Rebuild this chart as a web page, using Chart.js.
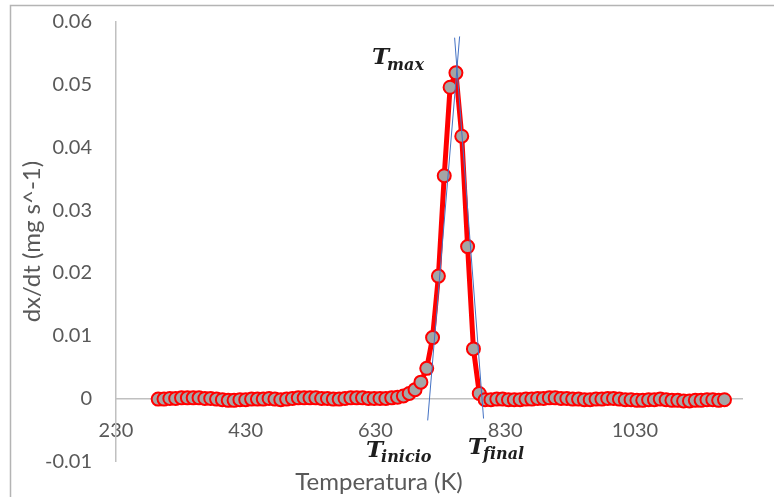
<!DOCTYPE html>
<html lang="es">
<head>
<meta charset="utf-8">
<title>dx/dt vs Temperatura</title>
<script src="https://cdn.jsdelivr.net/npm/chart.js@4.4.0/dist/chart.umd.min.js"></script>
<style>
  body { margin: 0; padding: 0; background: #ffffff; }
  #wrap { width: 774px; height: 497px; }
</style>
</head>
<body>
<div id="wrap"><canvas id="dtgChart" width="774" height="497"></canvas></div>
<script>
// temperatures (K)
const temps = [295, 304, 313, 322, 331, 340, 349, 358, 367, 376, 385, 394, 403, 412, 421, 430,
  439, 448, 457, 466, 475, 484, 493, 502, 511, 520, 529, 538, 547, 556, 565, 574, 583, 592,
  601, 610, 619, 628, 637, 646, 655, 664, 673, 682, 691, 700, 709, 718, 727, 736, 745, 754,
  763, 772, 781, 790, 799, 808, 817, 826, 835, 844, 853, 862, 871, 880, 889, 898, 907, 916,
  925, 934, 943, 952, 961, 970, 979, 988, 997, 1006, 1015, 1024, 1033, 1042, 1051, 1060,
  1069, 1078, 1087, 1096, 1105, 1114, 1123, 1132, 1141, 1150, 1159, 1168];

// dx/dt (mg s^-1)
const rates = [-0.0001, -0.0001, 0.0000, 0.0000, 0.0001, 0.0001, 0.0001, 0.0001, 0.0000, 0.0000,
  -0.0001, -0.0002, -0.0003, -0.0003, -0.0002, -0.0002, -0.0001, -0.0001, -0.0001, 0.0000,
  -0.0001, -0.0002, -0.0001, 0.0000, 0.0001, 0.0001, 0.0001, 0.0001, 0.0000, 0.0000,
  -0.0001, -0.0001, 0.0000, 0.0001, 0.0001, 0.0001, 0.0000, 0.0000, 0.0000, 0.0000,
  0.0001, 0.0002, 0.0004, 0.0008, 0.0014, 0.0026, 0.0048, 0.0097, 0.0195, 0.0355,
  0.0496, 0.0519, 0.0418, 0.0242, 0.0079, 0.0008, -0.0002, -0.0002, -0.0001, -0.0001,
  -0.0002, -0.0002, -0.0002, -0.0001, -0.0001, 0.0000, 0.0000, 0.0001, 0.0001, 0.0000,
  0.0000, -0.0001, -0.0001, -0.0002, -0.0002, -0.0001, -0.0001, 0.0000, 0.0000, -0.0001,
  -0.0002, -0.0002, -0.0003, -0.0003, -0.0002, -0.0002, -0.0001, -0.0002, -0.0003, -0.0003,
  -0.0004, -0.0004, -0.0003, -0.0003, -0.0002, -0.0002, -0.0003, -0.0002];

// tangent lines drawn by hand in the original
const tanInicioT = [710.5, 759.7];
const tanInicioY = [-0.0035, 0.0577];
const tanFinalT = [752.0, 796.6];
const tanFinalY = [0.0575, -0.0032];

const xTicks = [230, 430, 630, 830, 1030];
const yTicks = [-0.01, 0, 0.01, 0.02, 0.03, 0.04, 0.05, 0.06];

const toPts = (xs, ys) => xs.map((x, i) => ({ x: x, y: ys[i] }));

const grey = '#595959';
const tickFont = { family: 'Lato', size: 20 };

// outer chart frame + white bg
const framePlugin = {
  id: 'frame',
  beforeDraw(chart) {
    const c = chart.ctx;
    c.save();
    c.fillStyle = '#ffffff';
    c.fillRect(0, 0, chart.width, chart.height);
    c.strokeStyle = '#b4b4b4';
    c.lineWidth = 1.5;
    c.beginPath();
    c.moveTo(10.5, chart.height + 2);
    c.lineTo(10.5, 5.5);
    c.lineTo(chart.width + 2, 5.5);
    c.stroke();
    c.restore();
  }
};

// T_max, T_inicio, T_final labels
const marks = [
  { main: 'T', sub: 'max', x: 372, y: 64, sy: 70 },
  { main: 'T', sub: 'inicio', x: 366, y: 457, sy: 462 },
  { main: 'T', sub: 'final', x: 468, y: 454, sy: 459 }
];
const labelPlugin = {
  id: 'tlabels',
  afterDatasetsDraw(chart) {
    const c = chart.ctx;
    c.save();
    c.fillStyle = '#1e1e1e';
    c.textBaseline = 'alphabetic';
    marks.forEach(m => {
      c.font = 'italic bold 23px "DejaVu Serif"';
      c.fillText(m.main, m.x, m.y);
      const w = c.measureText(m.main).width;
      c.font = 'italic bold 16px "DejaVu Serif"';
      c.fillText(m.sub, m.x + w - 2, m.sy);
    });
    c.restore();
  }
};

new Chart(document.getElementById('dtgChart'), {
  type: 'scatter',
  data: {
    datasets: [
      {
        label: 'tangente inicio',
        data: toPts(tanInicioT, tanInicioY),
        showLine: true,
        borderColor: '#4472c4',
        borderWidth: 1,
        pointRadius: 0
      },
      {
        label: 'tangente final',
        data: toPts(tanFinalT, tanFinalY),
        showLine: true,
        borderColor: '#4472c4',
        borderWidth: 1,
        pointRadius: 0
      },
      {
        label: 'dx/dt',
        data: toPts(temps, rates),
        showLine: true,
        borderColor: '#ff0000',
        borderWidth: 5,
        pointRadius: 6.5,
        pointBorderWidth: 2,
        pointBorderColor: '#ff0000',
        pointBackgroundColor: '#a5a5a5'
      }
    ]
  },
  options: {
    responsive: false,
    animation: false,
    layout: { padding: { left: 16, right: 32, top: 9, bottom: 0 } },
    plugins: {
      legend: { display: false },
      tooltip: { enabled: false },
      title: {
        display: true,
        position: 'bottom',
        text: 'Temperatura (K)',
        color: grey,
        font: { family: 'Lato', size: 24, weight: 'normal' },
        padding: { top: 7, bottom: 0 }
      }
    },
    scales: {
      x: {
        type: 'linear',
        min: 230,
        max: 1195,
        position: { y: 0 },
        afterBuildTicks: s => { s.ticks = xTicks.map(v => ({ value: v })); },
        grid: { display: false },
        border: { display: true, color: '#c0c0c0', width: 1.5 },
        ticks: { color: grey, font: tickFont, padding: 12, maxRotation: 0, callback: v => String(v) }
      },
      y: {
        min: -0.01,
        max: 0.06,
        afterBuildTicks: s => { s.ticks = yTicks.map(v => ({ value: v })); },
        afterFit: s => { s.width = 100; },
        grid: { display: true, drawOnChartArea: false, drawTicks: true, tickLength: 14, tickColor: 'rgba(0,0,0,0)' },
        border: { display: true, color: '#c0c0c0', width: 1.5 },
        ticks: {
          color: grey,
          font: tickFont,
          padding: 10,
          callback: v => (v === 0 ? '0' : v.toFixed(2))
        },
        title: {
          display: true,
          text: 'dx/dt (mg s^-1)',
          color: grey,
          font: { family: 'Lato', size: 24 },
          padding: { top: 2, bottom: 0 }
        }
      }
    }
  },
  plugins: [framePlugin, labelPlugin]
});
</script>
</body>
</html>
